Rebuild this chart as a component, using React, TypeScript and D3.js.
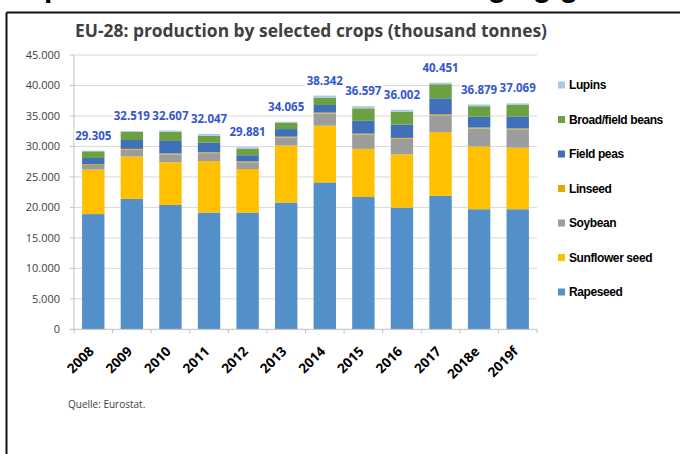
import React from "react";
import * as d3 from "d3";

const years = ["2008", "2009", "2010", "2011", "2012", "2013", "2014", "2015", "2016", "2017", "2018e", "2019f"];
const rapeseed = [18900, 21400, 20400, 19150, 19150, 20800, 24100, 21700, 19970, 21900, 19700, 19700];
const sunflower = [7300, 6950, 7000, 8450, 7150, 9350, 9300, 7900, 8730, 10450, 10300, 10100];
const soybean = [750, 1100, 1300, 1300, 1100, 1300, 2000, 2350, 2550, 2750, 2950, 3000];
const linseed = [150, 150, 150, 150, 150, 150, 150, 150, 150, 150, 150, 150];
const fieldPeas = [1000, 1450, 2050, 1550, 1000, 1250, 1250, 2100, 2200, 2650, 1800, 1950];
const beans = [1100, 1350, 1500, 1150, 1100, 1050, 1200, 2050, 2100, 2300, 1700, 1900];
const lupins = [105, 119, 207, 297, 231, 165, 342, 347, 302, 251, 279, 269];
const totals = [29305, 32519, 32607, 32047, 29881, 34065, 38342, 36597, 36002, 40451, 36879, 37069];
const yTicks = [0, 5000, 10000, 15000, 20000, 25000, 30000, 35000, 40000, 45000];

const seriesKeys = ["Rapeseed", "Sunflower seed", "Soybean", "Linseed", "Field peas", "Broad/field beans", "Lupins"];
const seriesValues = [rapeseed, sunflower, soybean, linseed, fieldPeas, beans, lupins];
const seriesColors = ["#5390C9", "#FFC000", "#9C9C9C", "#E2A900", "#4170BA", "#6BA140", "#A8C9EC"];

const locale = d3.formatLocale({ decimal: ",", thousands: ".", grouping: [3], currency: ["", "€"] });
const fmt = locale.format(",");

export default function App() {
  const rows = years.map((yr, i) => {
    const r: any = { year: yr };
    seriesKeys.forEach((k, j) => (r[k] = seriesValues[j][i]));
    return r;
  });
  const stacked = d3.stack<any>().keys(seriesKeys)(rows);

  const x = d3.scaleBand<string>().domain(years).range([74, 537]).paddingInner(0.42).paddingOuter(0.21);
  const y = d3.scaleLinear().domain([0, 45000]).range([329.3, 55]);
  const step = x.step();
  const font = "'Open Sans', 'Liberation Sans', sans-serif";

  return (
    <svg width={680} height={454} style={{ position: "absolute", left: 0, top: 0, background: "#fff" }}>
      <rect x={0} y={0} width={680} height={454} fill="#fff" />
      {/* cut-off heading from the page above */}
      <text x={44} y={-3} fontFamily="'Liberation Sans', Arial, sans-serif" fontWeight="bold" fontSize={30} fill="#000">p</text>
      <text x={488} y={-3} fontFamily="'Liberation Sans', Arial, sans-serif" fontWeight="bold" fontSize={30} fill="#000">ging g</text>
      {/* frame */}
      <line x1={6.5} y1={12.5} x2={680} y2={12.5} stroke="#111" strokeWidth={2} />
      <line x1={6.5} y1={12.5} x2={6.5} y2={454} stroke="#111" strokeWidth={2} />

      <text x={75} y={37} fontFamily={font} fontWeight="bold" fontSize={17} fill="#404040" textLength={472} lengthAdjust="spacingAndGlyphs">
        EU-28: production by selected crops  (thousand tonnes)
      </text>

      {/* gridlines & y axis */}
      {yTicks.map((t) => (
        <g key={t}>
          {t > 0 && <line x1={74} x2={537} y1={y(t)} y2={y(t)} stroke="#D9D9D9" strokeWidth={1} />}
          <line x1={70} x2={74} y1={y(t)} y2={y(t)} stroke="#BFBFBF" strokeWidth={1} />
          <text x={60} y={y(t)} dy="0.35em" textAnchor="end" fontFamily={font} fontSize={11} fill="#404040">
            {fmt(t)}
          </text>
        </g>
      ))}
      <line x1={74} x2={74} y1={y(45000)} y2={y(0)} stroke="#BFBFBF" strokeWidth={1} />

      {/* bars */}
      {stacked.map((s, si) => (
        <g key={s.key} fill={seriesColors[si]}>
          {s.map((d, i) => (
            <rect key={i} x={x(years[i])} width={x.bandwidth()} y={y(d[1])} height={Math.max(0, y(d[0]) - y(d[1]))} />
          ))}
        </g>
      ))}

      {/* x axis */}
      <line x1={74} x2={537} y1={y(0)} y2={y(0)} stroke="#BFBFBF" strokeWidth={1} />
      {years.map((yr, i) => (
        <line key={yr} x1={74 + step * i} x2={74 + step * i} y1={y(0)} y2={y(0) + 4} stroke="#BFBFBF" />
      ))}
      <line x1={537} x2={537} y1={y(0)} y2={y(0) + 4} stroke="#BFBFBF" />
      {years.map((yr) => {
        const cx = (x(yr) as number) + x.bandwidth() / 2;
        return (
          <text key={yr} transform={`translate(${cx - 2},${349}) rotate(-45)`} dy="0.35em" textAnchor="end"
            fontFamily={font} fontWeight="bold" fontSize={13.5} fill="#000">
            {yr}
          </text>
        );
      })}

      {/* total labels */}
      {years.map((yr, i) => {
        const cx = (x(yr) as number) + x.bandwidth() / 2;
        const ty = y(totals[i]) - 15;
        return (
          <g key={yr}>
            <rect x={cx - 19} y={ty - 7} width={38} height={14} fill="#fff" />
            <text x={cx} y={ty} dy="0.35em" textAnchor="middle" fontFamily={font} fontWeight="bold" fontSize={11.5} fill="#3456CF">
              {fmt(totals[i])}
            </text>
          </g>
        );
      })}

      {/* legend */}
      {seriesKeys.slice().reverse().map((k, i) => {
        const si = seriesKeys.length - 1 - i;
        const ly = 85 + i * 34.5;
        return (
          <g key={k}>
            <rect x={558} y={ly - 3.5} width={7} height={7} fill={seriesColors[si]} />
            <text x={569} y={ly} dy="0.35em" fontFamily="'Liberation Sans', Arial, sans-serif" fontWeight="bold"
              fontSize={12} letterSpacing={-0.4} fill="#000">
              {k}
            </text>
          </g>
        );
      })}

      <text x={68} y={404} dy="0.35em" fontFamily={font} fontSize={10} fill="#404040">Quelle: Eurostat.</text>
    </svg>
  );
}
